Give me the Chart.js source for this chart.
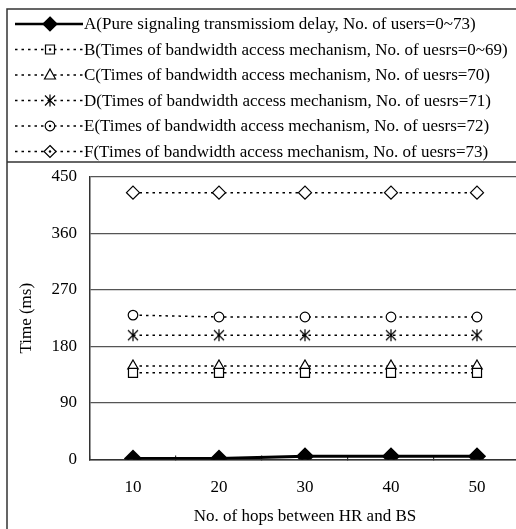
<!DOCTYPE html>
<html>
<head>
<meta charset="utf-8">
<script src="https://cdn.jsdelivr.net/npm/chart.js@4.4.1/dist/chart.umd.min.js"></script>
<style>
  html, body { margin: 0; padding: 0; background: #fff; overflow: hidden; }
  #wrap { width: 530px; height: 545px; }
</style>
</head>
<body>
<div id="wrap"><canvas id="chart" width="530" height="545"></canvas></div>
<script>
// x categories
const hops = ["10", "20", "30", "40", "50"];
// series values (ms)
const seriesA = [1.5, 1.5, 5, 5, 5];
const seriesB = [138, 138, 138, 138, 138];
const seriesC = [149, 149, 149, 149, 149];
const seriesD = [198, 198, 198, 198, 198];
const seriesE = [230, 227, 227, 227, 227];
const seriesF = [425, 425, 425, 425, 425];
const yTicks = [0, 90, 180, 270, 360, 450];

const legendTexts = [
  "A(Pure signaling transmissiom delay, No. of users=0~73)",
  "B(Times of bandwidth access mechanism, No. of uesrs=0~69)",
  "C(Times of bandwidth access mechanism, No. of uesrs=70)",
  "D(Times of bandwidth access mechanism, No. of uesrs=71)",
  "E(Times of bandwidth access mechanism, No. of uesrs=72)",
  "F(Times of bandwidth access mechanism, No. of uesrs=73)",
];

const FONT = "'Liberation Serif', 'Times New Roman', serif";
const DOTS = [2.5, 4];

// draws one marker shape, used for the legend samples and the asterisk point image
function drawMarker(c, kind, x, y, withDot) {
  c.save();
  c.strokeStyle = "#000";
  c.fillStyle = "#fff";
  c.lineWidth = 1.2;
  c.setLineDash([]);
  c.beginPath();
  if (kind === "diamondFill" || kind === "diamond") {
    const r = kind === "diamondFill" ? 7 : 6;
    c.moveTo(x, y - r); c.lineTo(x + r, y); c.lineTo(x, y + r); c.lineTo(x - r, y); c.closePath();
    if (kind === "diamondFill") c.fillStyle = "#000";
    c.fill(); c.stroke();
  } else if (kind === "square") {
    c.rect(x - 4.5, y - 4.5, 9, 9);
    c.fill(); c.stroke();
  } else if (kind === "triangle") {
    c.moveTo(x, y - 6); c.lineTo(x + 5.5, y + 4); c.lineTo(x - 5.5, y + 4); c.closePath();
    c.fill(); c.stroke();
  } else if (kind === "circle") {
    c.arc(x, y, 4.8, 0, Math.PI * 2);
    c.fill(); c.stroke();
  } else if (kind === "asterisk") {
    c.moveTo(x, y - 6); c.lineTo(x, y + 6);
    c.moveTo(x - 5, y - 5); c.lineTo(x + 5, y + 5);
    c.moveTo(x + 5, y - 5); c.lineTo(x - 5, y + 5);
    c.stroke();
  }
  if (withDot) {
    c.beginPath();
    c.fillStyle = "#000";
    c.arc(x, y, 1.2, 0, Math.PI * 2);
    c.fill();
  }
  c.restore();
}

const starImg = document.createElement("canvas");
starImg.width = 14;
starImg.height = 14;
drawMarker(starImg.getContext("2d"), "asterisk", 7, 7, false);

const legendKinds = ["diamondFill", "square", "triangle", "asterisk", "circle", "diamond"];

// frame around the figure plus the legend block above the plot
const frameLegend = {
  id: "frameLegend",
  afterDraw(chart) {
    const c = chart.ctx;
    c.save();
    c.strokeStyle = "#333";
    c.lineWidth = 1.5;
    c.strokeRect(7, 9, 560, 600);
    c.beginPath();
    c.moveTo(7, 162);
    c.lineTo(560, 162);
    c.stroke();

    c.font = "17px " + FONT;
    c.fillStyle = "#000";
    c.textBaseline = "middle";
    chart.data.datasets.forEach((ds, i) => {
      const y = 24 + i * 25.5;
      c.beginPath();
      c.strokeStyle = "#000";
      c.lineWidth = i === 0 ? 2.5 : 1.5;
      c.setLineDash(i === 0 ? [] : DOTS);
      c.moveTo(15, y);
      c.lineTo(83, y);
      c.stroke();
      c.setLineDash([]);
      drawMarker(c, legendKinds[i], 50, y, i > 0 && i !== 2 && i !== 3);
      c.fillText(legendTexts[i], 84, y + 1);
    });
    c.restore();
  },
};

function lineSet(label, data, style, radius, fill) {
  return {
    label: label,
    data: data,
    borderColor: "#000",
    borderWidth: 1.5,
    borderDash: DOTS,
    pointStyle: style,
    pointRadius: radius,
    pointBackgroundColor: fill,
    pointBorderColor: "#000",
    pointBorderWidth: 1.2,
    tension: 0,
    fill: false,
  };
}

const ctx = document.getElementById("chart");
new Chart(ctx, {
  type: "line",
  data: {
    labels: hops,
    datasets: [
      {
        label: "A",
        data: seriesA,
        borderColor: "#000",
        borderWidth: 3,
        pointStyle: "rectRot",
        pointRadius: 7,
        pointBackgroundColor: "#000",
        pointBorderColor: "#000",
        tension: 0,
      },
      lineSet("B", seriesB, "rect", 6.4, "#fff"),
      lineSet("C", seriesC, "triangle", 6, "#fff"),
      lineSet("D", seriesD, starImg, 7, "#fff"),
      lineSet("E", seriesE, "circle", 4.8, "#fff"),
      lineSet("F", seriesF, "rectRot", 6.5, "#fff"),
    ],
  },
  options: {
    responsive: false,
    animation: false,
    layout: { padding: { top: 177, right: 9, left: 0, bottom: 0 } },
    plugins: {
      legend: { display: false },
      tooltip: { enabled: false },
    },
    scales: {
      x: {
        type: "category",
        offset: true,
        grid: {
          offset: true,
          drawOnChartArea: false,
          drawTicks: true,
          tickLength: -4,
          color: "#333",
          lineWidth: 1.2,
        },
        border: { display: true, color: "#333", width: 1.5 },
        ticks: { color: "#000", font: { family: FONT, size: 17 }, padding: 22, maxRotation: 0 },
        title: {
          display: true,
          text: "No. of hops between HR and BS",
          color: "#000",
          font: { family: FONT, size: 17 },
          padding: { top: 0, bottom: 18 },
        },
        afterFit(scale) {
          scale.height = 85.5;
        },
      },
      y: {
        min: 0,
        max: 450,
        afterBuildTicks(scale) {
          scale.ticks = yTicks.map((v) => ({ value: v }));
        },
        grid: { color: "#555", lineWidth: 1.2, drawTicks: false },
        border: { display: true, color: "#333", width: 1.5 },
        ticks: { color: "#000", font: { family: FONT, size: 17 }, padding: 13 },
        title: {
          display: true,
          text: "Time (ms)",
          color: "#000",
          font: { family: FONT, size: 17 },
          padding: { top: 16, bottom: 0 },
        },
        afterFit(scale) {
          scale.width = 90;
        },
      },
    },
  },
  plugins: [frameLegend],
});
</script>
</body>
</html>
